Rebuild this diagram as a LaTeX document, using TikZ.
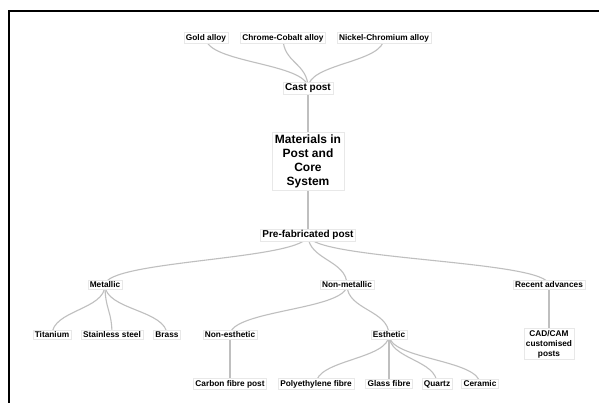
\documentclass[tikz,border=0pt]{standalone}
\usepackage{fontspec}
\setmainfont{Liberation Sans}
\usetikzlibrary{calc,backgrounds}
\begin{document}
\begin{tikzpicture}[x=1pt,y=-1pt,
  box/.style={draw=gray!18, fill=white, font=\bfseries\fontsize{8.3}{10}\selectfont, inner xsep=2pt, inner ysep=1.6pt, align=center},
  midbox/.style={box, font=\bfseries\fontsize{10}{12}\selectfont},
  rootbox/.style={box, font=\bfseries\fontsize{12}{14}\selectfont, inner xsep=3pt, inner ysep=2.5pt},
  link/.style={draw=gray!50, line width=1.1pt, to path={.. controls ($(\tikztostart)!0.5!(\tikztostart|-\tikztotarget)$) and ($(\tikztotarget)!0.5!(\tikztotarget|-\tikztostart)$) .. (\tikztotarget)}}]
\useasboundingbox (0,0) rectangle (599,403);

\node[box] (gold) at (206,38) {Gold alloy};
\node[box] (chrome) at (283,38) {Chrome-Cobalt alloy};
\node[box] (nickel) at (384,38) {Nickel-Chromium alloy};
\node[midbox] (cast) at (308,88) {Cast post};
\node[rootbox] (root) at (308,161) {Materials in\\Post and\\Core\\System};
\node[midbox] (pre) at (308,235) {Pre-fabricated post};
\node[box] (metal) at (105,285) {Metallic};
\node[box] (nonmetal) at (347,285) {Non-metallic};
\node[box] (recent) at (549,285) {Recent advances};
\node[box] (ti) at (52,335) {Titanium};
\node[box] (ss) at (112,335) {Stainless steel};
\node[box] (brass) at (167,335) {Brass};
\node[box] (nones) at (230,335) {Non-esthetic};
\node[box] (es) at (389,335) {Esthetic};
\node[box] (cad) at (549,344) {CAD/CAM\\customised\\posts};
\node[box] (carbon) at (230,384) {Carbon fibre post};
\node[box] (poly) at (316,384) {Polyethylene fibre};
\node[box] (glass) at (389,384) {Glass fibre};
\node[box] (quartz) at (437,384) {Quartz};
\node[box] (ceramic) at (480,384) {Ceramic};

\begin{scope}[on background layer]
\fill[white] (0,0) rectangle (599,403);
\draw[line width=2pt, line join=miter] (9,404) -- (9,11.5) -- (600,11.5);
\foreach \a/\b in {cast/gold, cast/chrome, cast/nickel, cast/root, root/pre,
  pre/metal, pre/nonmetal, pre/recent, metal/ti, metal/ss, metal/brass,
  nonmetal/nones, nonmetal/es, recent/cad, nones/carbon,
  es/poly, es/glass, es/quartz, es/ceramic}
  \draw[link] (\a.center) to (\b.center);
\end{scope}
\end{tikzpicture}
\end{document}
